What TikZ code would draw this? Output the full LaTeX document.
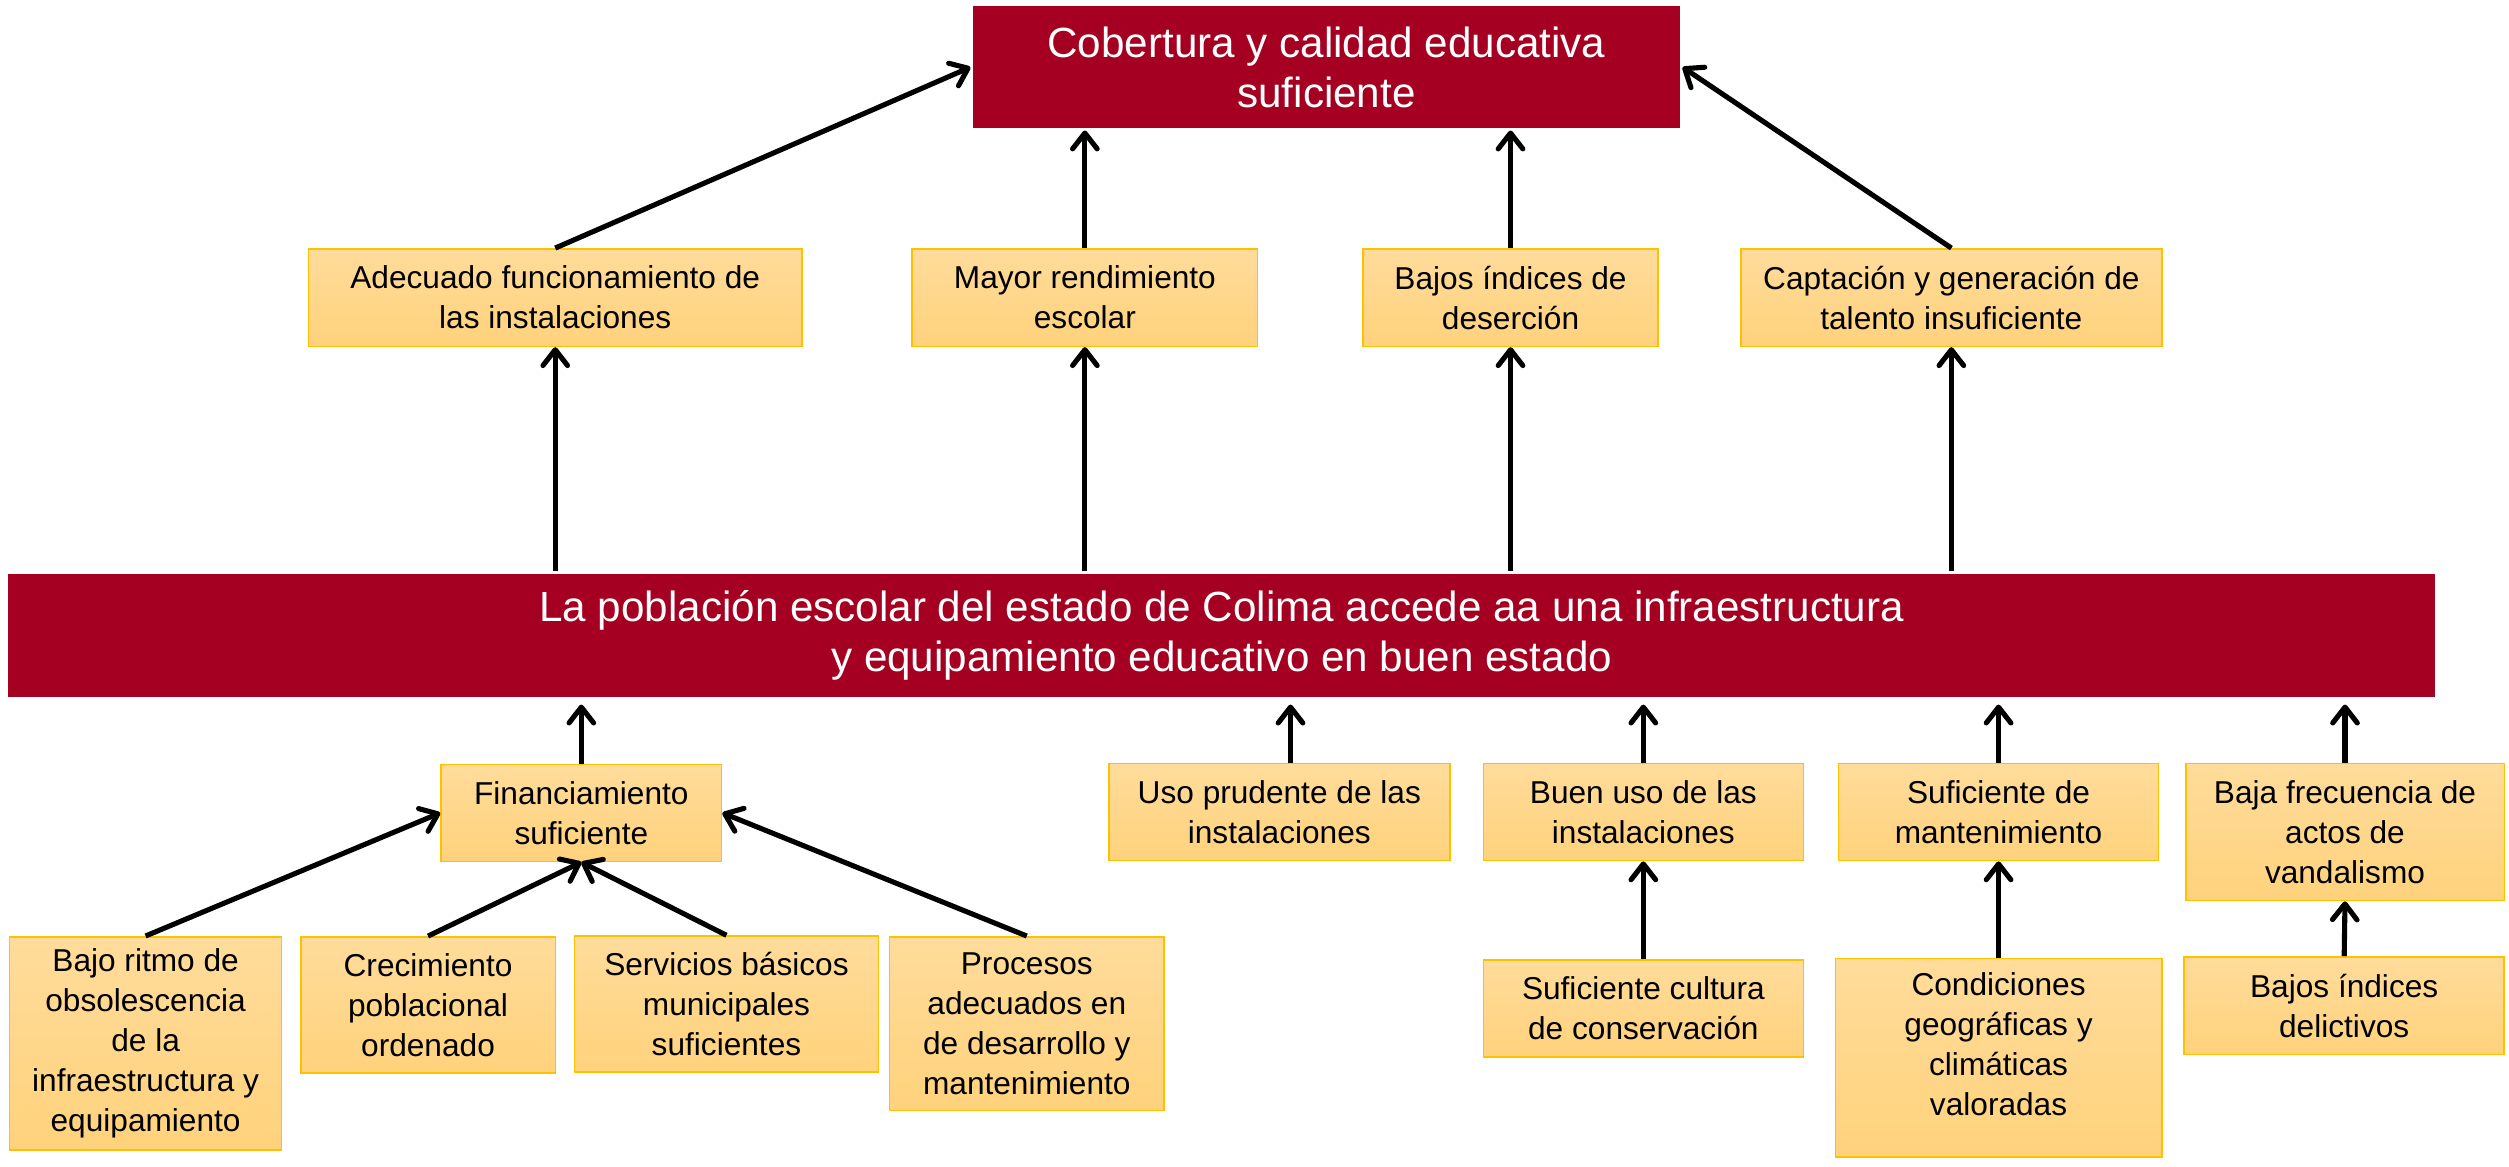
\documentclass[tikz,border=0pt]{standalone}
\usepackage{fontspec}
\setmainfont{Liberation Sans}
\usetikzlibrary{arrows.meta}
\usetikzlibrary{calc}
\definecolor{vino}{HTML}{A50021}
\definecolor{oroclaro}{HTML}{FFDC9B}
\definecolor{oro}{HTML}{FFD27C}
\definecolor{borde}{HTML}{FFC000}

\begin{document}
\begin{tikzpicture}[->,>={Straight Barb[length=9pt,width=14pt,line cap=round,line join=round]},line width=2.9pt,x=0.032cm,y=-0.032cm,inner sep=0pt]
\tikzstyle{rojo}=[rectangle,fill=vino,text=white,align=center,font=\fontsize{24}{28.5}\selectfont]
\tikzstyle{caja}=[rectangle,draw=borde,line width=0.9pt,top color=oroclaro,bottom color=oro,align=center,font=\fontsize{18}{22.7}\selectfont]
\useasboundingbox (0,0) rectangle (1568,729);
\node[rojo,minimum width=14.14cm,minimum height=2.43cm] (cob) at (829,42) {Cobertura y calidad educativa\\suficiente};
\node[caja,minimum width=9.86cm,minimum height=1.95cm] (adec) at (347,186) {Adecuado funcionamiento de\\las instalaciones};
\node[caja,minimum width=6.91cm,minimum height=1.95cm] (rend) at (678,186) {Mayor rendimiento\\escolar};
\node[caja,minimum width=5.89cm,minimum height=1.95cm] (deser) at (944,186) {Bajos índices de\\deserción};
\node[caja,minimum width=8.42cm,minimum height=1.95cm] (talen) at (1219.5,186) {Captación y generación de\\talento insuficiente};
\node[rojo,minimum width=48.54cm,minimum height=2.46cm] (pob) at (763.5,397) {La población escolar del estado de Colima accede aa una infraestructura\\y equipamiento educativo en buen estado};
\node[caja,minimum width=5.61cm,minimum height=1.94cm] (finan) at (363.3,508) {Financiamiento\\suficiente};
\node[caja,minimum width=6.82cm,minimum height=1.94cm] (prud) at (799.5,507.5) {Uso prudente de las\\instalaciones};
\node[caja,minimum width=6.4cm,minimum height=1.94cm] (buen) at (1027,507.5) {Buen uso de las\\instalaciones};
\node[caja,minimum width=6.4cm,minimum height=1.94cm] (mant) at (1249,507.5) {Suficiente de\\mantenimiento};
\node[caja,minimum width=6.37cm,minimum height=2.74cm] (vand) at (1465.5,520) {Baja frecuencia de\\actos de\\vandalismo};
\node[caja,minimum width=5.44cm,minimum height=4.26cm] (obso) at (91,652) {Bajo ritmo de\\obsolescencia\\de la\\infraestructura y\\equipamiento};
\node[caja,minimum width=5.09cm,minimum height=2.72cm] (crec) at (267.5,628) {Crecimiento\\poblacional\\ordenado};
\node[caja,minimum width=6.08cm,minimum height=2.72cm] (serv) at (454,627.5) {Servicios básicos\\municipales\\suficientes};
\node[caja,minimum width=5.49cm,minimum height=3.47cm] (proc) at (641.7,639.7) {Procesos\\adecuados en\\de desarrollo y\\mantenimiento};
\node[caja,minimum width=6.4cm,minimum height=1.94cm] (cult) at (1027,630.3) {Suficiente cultura\\de conservación};
\node[caja,minimum width=6.53cm,minimum height=3.97cm,text depth=0.55cm] (geo) at (1249,661) {Condiciones\\geográficas y\\climáticas\\valoradas};
\node[caja,minimum width=6.4cm,minimum height=1.95cm] (deli) at (1465,628.5) {Bajos índices\\delictivos};
\draw (adec.north) -- (cob.west);
\draw (rend.north) -- (rend.north |- cob.south);
\draw (deser.north) -- (deser.north |- cob.south);
\draw (talen.north) -- (cob.east);
\draw (pob.north -| adec.south) -- (adec.south);
\draw (pob.north -| rend.south) -- (rend.south);
\draw (pob.north -| deser.south) -- (deser.south);
\draw (pob.north -| talen.south) -- (talen.south);
\draw[shorten >=3pt] (finan.north) -- (finan.north |- pob.south);
\draw[shorten >=3pt] ($(prud.north)+(7,0)$) -- ($(prud.north |- pob.south)+(7,0)$);
\draw[shorten >=3pt] (buen.north) -- (buen.north |- pob.south);
\draw[shorten >=3pt] (mant.north) -- (mant.north |- pob.south);
\draw[shorten >=3pt] (vand.north) -- (vand.north |- pob.south);
\draw (obso.north) -- (finan.west);
\draw (crec.north) -- (finan.south);
\draw (serv.north) -- (finan.south);
\draw (proc.north) -- (finan.east);
\draw (cult.north) -- (buen.south);
\draw (geo.north) -- (mant.south);
\draw (deli.north) -- (vand.south);
\end{tikzpicture}
\end{document}
